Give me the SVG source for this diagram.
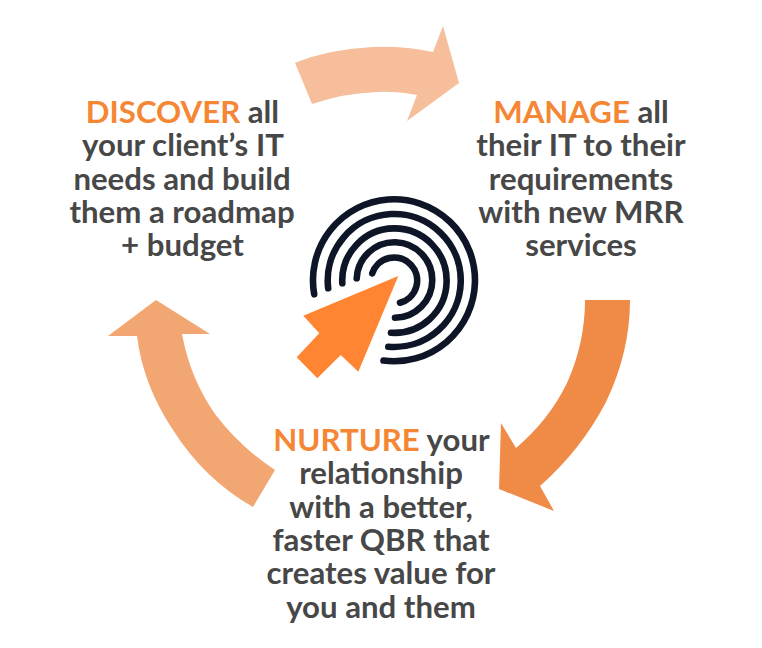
<svg xmlns="http://www.w3.org/2000/svg" width="762" height="648" viewBox="0 0 762 648">
<style>
.t{font-family:Lato,"Open Sans",sans-serif;font-weight:700;font-size:31.2px;fill:#474747;text-anchor:middle}
.h{fill:#F58634}
.r{fill:none;stroke:#0E1526;stroke-width:6.6;stroke-linecap:round}
</style>
<rect width="762" height="648" fill="#fff"/>
<g id="connectors">
<path id="arrow-top" fill="#F6BE9A" d="M295 62.7Q330 49 373 47Q405 46 433 52L443 26L459 83L407 121L417 95Q395 91 377 92Q345 93 312 104Z"/>
<path id="arrow-right" fill="#EF8B47" d="M585 300H630Q630 352 606 402Q581 450 540 486L554 511L499 489L501 423L516 448Q549 420 567 383Q585 343 585 300Z"/>
<path id="arrow-left" fill="#F2A672" d="M156 300L210 334H182Q190 378 215 414Q240 447 275 470L253 507Q204 479 173 430Q143 385 137 336H108Z"/>
</g>
<g id="logo">
<path class="r" d="M314.200 294.300A81 81 0 1 1 383.500 360.600"/>
<path class="r" d="M328.200 288.300A66.500 66.500 0 1 1 388.300 346.700"/>
<path class="r" d="M342.300 283.300A52.200 52.200 0 1 1 391 332.700"/>
<path class="r" d="M356.700 278.300A37.800 37.800 0 1 1 395 317.800"/>
<path class="r" d="M372.300 273.300A23 23 0 1 1 400 302.700"/>
<path fill="#FF8533" d="M398.300 276L303.300 315.700L319.300 333.300L296.700 357.300L317.300 378.300L340.700 355L358.300 371.700Z"/>
</g>
<g id="discover">
<text class="t"><tspan x="182.500" y="122.500"><tspan class="h">DISCOVER</tspan> all</tspan><tspan x="183" y="156">your client’s IT</tspan><tspan x="182" y="189.500">needs and build</tspan><tspan x="182" y="223">them a roadmap</tspan><tspan x="182.500" y="256">+ budget</tspan></text>
</g>
<g id="manage">
<text class="t"><tspan x="581" y="122.500"><tspan class="h">MANAGE</tspan> all</tspan><tspan x="581" y="156">their IT to their</tspan><tspan x="581" y="189.500">requirements</tspan><tspan x="581" y="223">with new MRR</tspan><tspan x="581" y="256">services</tspan></text>
</g>
<g id="nurture">
<text class="t"><tspan x="381.500" y="450.500"><tspan class="h">NURTURE</tspan> your</tspan><tspan x="381" y="484">relationship</tspan><tspan x="381" y="517.500">with a better,</tspan><tspan x="381" y="551">faster QBR that</tspan><tspan x="381" y="584">creates value for</tspan><tspan x="381" y="618">you and them</tspan></text>
</g>
</svg>
